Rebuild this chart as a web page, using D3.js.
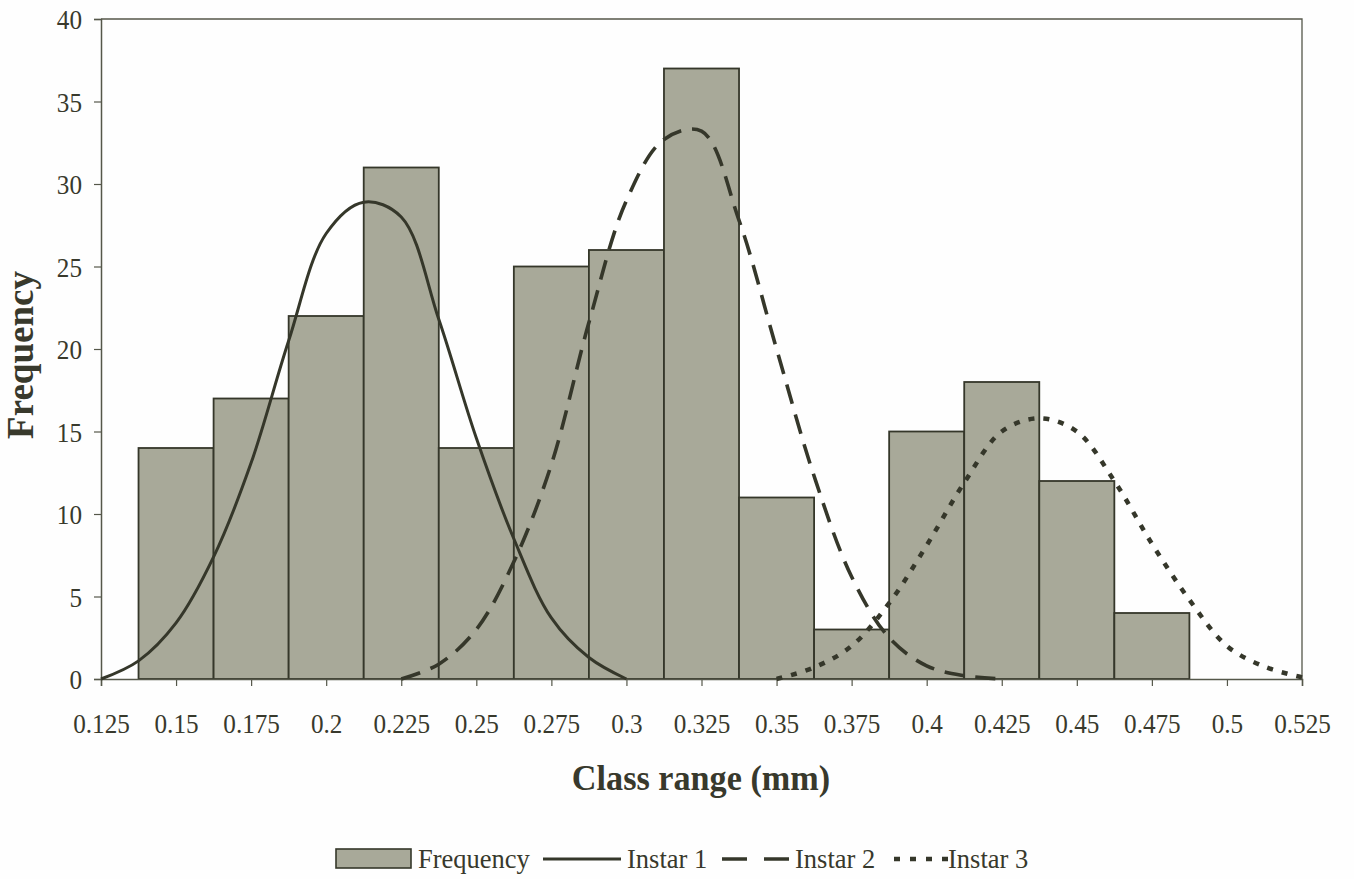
<!DOCTYPE html>
<html>
<head>
<meta charset="utf-8">
<script src="https://cdn.jsdelivr.net/npm/d3@7"></script>
<style>
  html, body { margin: 0; padding: 0; background: #fefefe; }
  svg text { font-family: "Liberation Serif", "Times New Roman", serif; fill: #38392c; }
</style>
</head>
<body>
<svg id="chart" width="1354" height="879"></svg>
<script>
// ---- data ----
const classMids = [0.15, 0.175, 0.2, 0.225, 0.25, 0.275, 0.3, 0.325, 0.35, 0.375, 0.4, 0.425, 0.45, 0.475];
const frequency = [14, 17, 22, 31, 14, 25, 26, 37, 11, 3, 15, 18, 12, 4];

const instar1X = [0.125, 0.1375, 0.15, 0.1625, 0.175, 0.1875, 0.2, 0.2125, 0.225, 0.2375, 0.25, 0.2625, 0.275, 0.2875, 0.3];
const instar1Y = [0, 1.1, 3.4, 7.4, 13.1, 20.5, 27.0, 28.9, 28.0, 21.8, 14.6, 8.5, 3.7, 1.3, 0];

const instar2X = [0.225, 0.2375, 0.25, 0.2625, 0.275, 0.2875, 0.3, 0.3125, 0.325, 0.3375, 0.35, 0.3625, 0.375, 0.3875, 0.4, 0.4125, 0.425];
const instar2Y = [0, 0.9, 3.0, 7.1, 13.0, 21.6, 29.0, 32.7, 33.2, 27.8, 20.0, 12.3, 6.2, 2.5, 0.8, 0.2, 0];

const instar3X = [0.35, 0.3625, 0.375, 0.3875, 0.4, 0.4125, 0.425, 0.4375, 0.45, 0.4625, 0.475, 0.4875, 0.5, 0.5125, 0.525];
const instar3Y = [0, 0.7, 2.0, 4.6, 8.1, 11.9, 15.0, 15.8, 15.0, 12.0, 8.2, 4.8, 2.0, 0.75, 0.1];

const xTicks = [0.125, 0.15, 0.175, 0.2, 0.225, 0.25, 0.275, 0.3, 0.325, 0.35, 0.375, 0.4, 0.425, 0.45, 0.475, 0.5, 0.525];
const yTicks = [0, 5, 10, 15, 20, 25, 30, 35, 40];
const legendLabels = ["Frequency", "Instar 1", "Instar 2", "Instar 3"];

// ---- drawing ----
const ink = "#35372a";
const axisInk = "#55574a";
const barFill = "#a8a999";
const svg = d3.select("#chart");
const x = d3.scaleLinear().domain([0.125, 0.525]).range([101, 1302]);
const y = d3.scaleLinear().domain([0, 40]).range([679, 19]);
const binW = 0.025;
const sx = 0.9; // horizontal condensing of tick text

// bars
svg.append("g").selectAll("rect").data(classMids).join("rect")
  .attr("x", d => x(d - binW / 2))
  .attr("width", d => x(d + binW / 2) - x(d - binW / 2))
  .attr("y", (d, i) => y(frequency[i]))
  .attr("height", (d, i) => y(0) - y(frequency[i]))
  .attr("fill", barFill)
  .attr("stroke", ink)
  .attr("stroke-width", 1.8);

// frame (top and right)
svg.append("path")
  .attr("d", `M${x(0.125)},${y(40)}H${x(0.525)}V${y(0)}`)
  .attr("fill", "none").attr("stroke", axisInk).attr("stroke-width", 1.3);

// axes
const xAxis = d3.axisBottom(x).tickValues(xTicks).tickSize(7).tickFormat(d => String(+d.toFixed(3)));
const gx = svg.append("g").attr("transform", `translate(0,${y(0)})`).call(xAxis);
gx.select(".domain").attr("stroke", axisInk).attr("stroke-width", 1.5);
gx.selectAll(".tick line").attr("stroke", axisInk).attr("stroke-width", 1.2);
gx.selectAll(".tick text").attr("font-size", 28).attr("dy", 0).attr("y", 54)
  .attr("transform", `scale(${sx},1)`)
  .attr("font-family", "Liberation Serif").attr("fill", "#38392c");

const yAxis = d3.axisLeft(y).tickValues(yTicks).tickSize(7);
const gy = svg.append("g").attr("transform", `translate(${x(0.125)},0)`).call(yAxis);
gy.select(".domain").attr("stroke", axisInk).attr("stroke-width", 1.5);
gy.selectAll(".tick line").attr("stroke", axisInk).attr("stroke-width", 1.2);
gy.selectAll(".tick text").attr("font-size", 28).attr("x", -19 / sx).attr("dy", "0.34em")
  .attr("transform", `scale(${sx},1)`)
  .attr("font-family", "Liberation Serif").attr("fill", "#38392c");

// curves
const line = d3.line().x(d => x(d[0])).y(d => y(d[1])).curve(d3.curveCatmullRom.alpha(0.5));
const curves = [
  { xs: instar1X, ys: instar1Y, dash: null, w: 3 },
  { xs: instar2X, ys: instar2Y, dash: "20,11", w: 3.6 },
  { xs: instar3X, ys: instar3Y, dash: "6,9", w: 4.5 }
];
curves.forEach(c => {
  svg.append("path")
    .datum(c.xs.map((v, i) => [v, c.ys[i]]))
    .attr("d", line)
    .attr("fill", "none")
    .attr("stroke", ink)
    .attr("stroke-width", c.w)
    .attr("stroke-dasharray", c.dash);
});

// axis titles
svg.append("text").attr("transform", "translate(701,790) scale(0.95,1)").attr("text-anchor", "middle")
  .attr("font-size", 36).attr("font-weight", "bold").text("Class range (mm)");
svg.append("text").attr("transform", "translate(33,355) rotate(-90)").attr("text-anchor", "middle")
  .attr("font-size", 37).attr("font-weight", "bold").text("Frequency");

// legend
const lg = svg.append("g");
const ly = 859;
const lb = 868;
lg.append("rect").attr("x", 336).attr("y", 849).attr("width", 75).attr("height", 19)
  .attr("fill", barFill).attr("stroke", ink).attr("stroke-width", 1.6);
lg.append("text").attr("x", 418).attr("y", lb).attr("font-size", 26.5).text(legendLabels[0]);
lg.append("line").attr("x1", 543).attr("x2", 621).attr("y1", ly).attr("y2", ly)
  .attr("stroke", ink).attr("stroke-width", 3);
lg.append("text").attr("x", 627).attr("y", lb).attr("font-size", 26.5).text(legendLabels[1]);
lg.append("line").attr("x1", 722).attr("x2", 789).attr("y1", ly).attr("y2", ly)
  .attr("stroke", ink).attr("stroke-width", 3.6).attr("stroke-dasharray", "25,17");
lg.append("text").attr("x", 795).attr("y", lb).attr("font-size", 26.5).text(legendLabels[2]);
lg.append("line").attr("x1", 894).attr("x2", 948).attr("y1", ly).attr("y2", ly)
  .attr("stroke", ink).attr("stroke-width", 4.5).attr("stroke-dasharray", "6,10");
lg.append("text").attr("x", 948).attr("y", lb).attr("font-size", 26.5).text(legendLabels[3]);
</script>
</body>
</html>
